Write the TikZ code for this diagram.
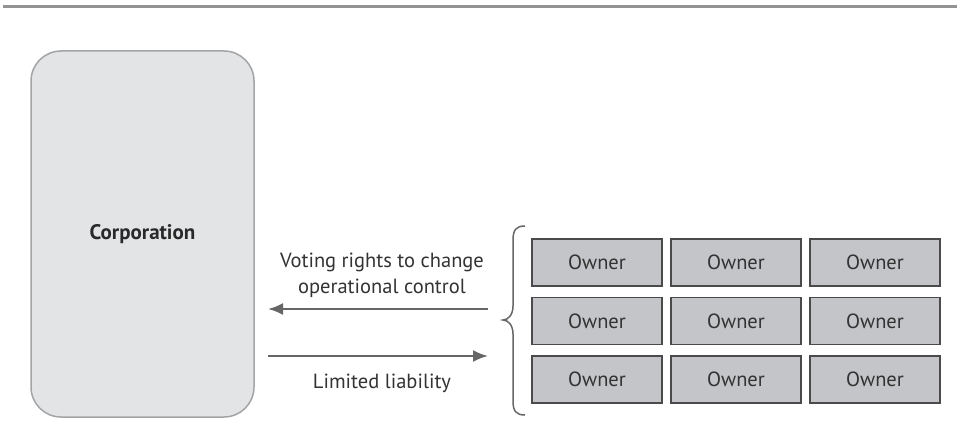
\documentclass[tikz,border=0pt]{standalone}
\usepackage{fontspec}
\setmainfont{PT Sans}
\usetikzlibrary{arrows.meta}
\definecolor{corpfill}{HTML}{E3E4E6}
\definecolor{corpline}{HTML}{A3A4A6}
\definecolor{ownfill}{HTML}{C4C5C8}
\definecolor{ownline}{HTML}{4A4A4A}
\definecolor{flowcol}{HTML}{666666}
\definecolor{txtcol}{HTML}{333333}
\tikzset{
  corpbox/.style={draw=corpline,fill=corpfill,line width=1.5pt,rounded corners=30pt,minimum width=223pt,minimum height=366pt,font=\fontsize{21}{24}\selectfont\bfseries,text=txtcol!80!black},
  ownbox/.style={draw=ownline,fill=ownfill,line width=1.5pt,minimum width=130pt,minimum height=47pt,font=\fontsize{20.5}{24}\selectfont,text=txtcol},
  flow/.style={draw=flowcol,line width=2.2pt,-{Latex[length=15pt,width=12pt]}},
  lbl/.style={font=\fontsize{20.5}{26}\selectfont,text=txtcol,align=center}
}
\begin{document}
\begin{tikzpicture}[x=1pt,y=-1pt]
    \useasboundingbox (0,0) rectangle (957,436);
    \draw[draw=gray!85,line width=3pt] (3,7) -- (957,7);
    \node[corpbox] (corp) at (142.5,234) {Corporation};
    \foreach \r in {1,2,3}{
    \foreach \c in {1,2,3}{
    \node[ownbox] (o\r\c) at (597+139*\c-139,262.5+58.5*\r-58.5) {Owner};
    }}
    % brace round the owners
    \coordinate (tip) at (503,320);
    \draw[flowcol,line width=1.5pt] (525,226) .. controls (516,226) and (513,230) .. (513,240) -- (513,306) .. controls (513,315) and (508,320) .. (tip) .. controls (508,320) and (513,325) .. (513,334) -- (513,401) .. controls (513,411) and (516,415) .. (525,415);
    \coordinate (vote) at (488,309);
    \coordinate (liab) at (268,356);
    \draw[flow] (vote) -- (vote -| liab);
    \draw[flow] (liab) -- (liab -| vote);
    \node[lbl] at (382,275) {Voting rights to change\\operational control};
    \node[lbl] at (382,383) {Limited liability};
\end{tikzpicture}
\end{document}
